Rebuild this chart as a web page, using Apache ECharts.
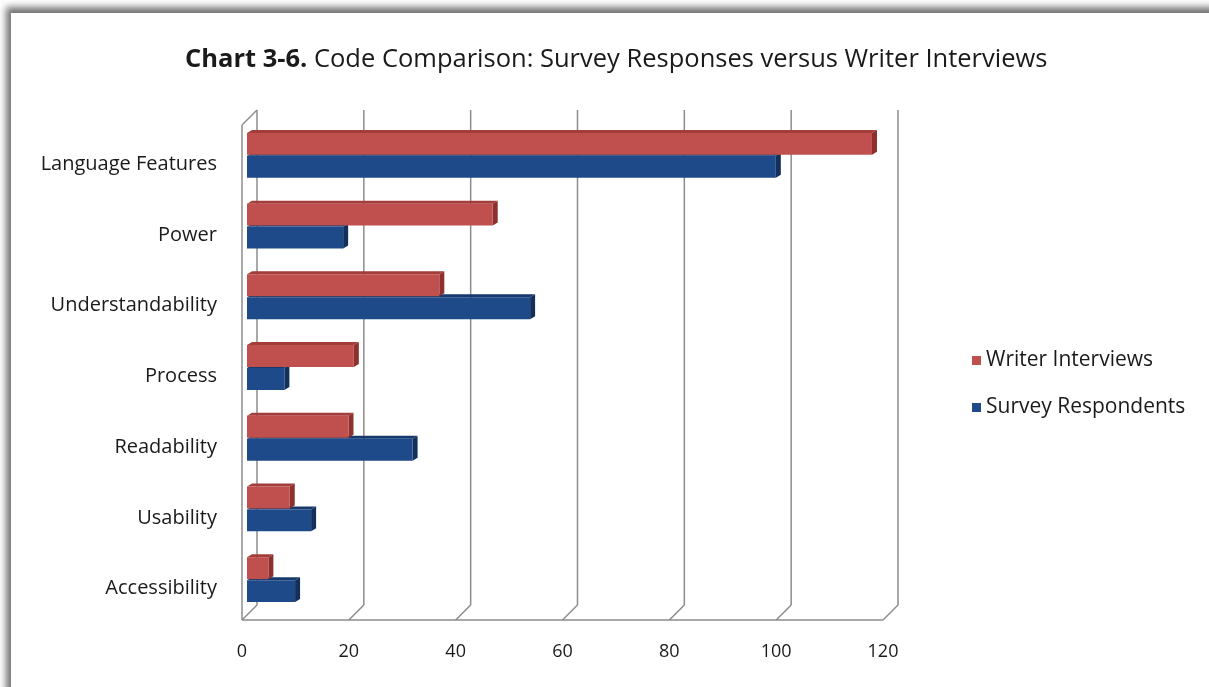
<!DOCTYPE html>
<html>
<head>
<meta charset="utf-8">
<script src="https://cdn.jsdelivr.net/npm/echarts@6/dist/echarts.min.js"></script>
<style>
  html, body { margin: 0; padding: 0; width: 1209px; height: 687px; overflow: hidden; background: #fff; }
  #sheet {
    position: absolute; left: 11px; top: 13px; width: 1240px; height: 720px;
    background: #fff;
    box-shadow: -3px -4px 7px 2px rgba(0,0,0,0.55);
  }
  #main { position: absolute; left: 0; top: 0; width: 1209px; height: 687px; }
</style>
</head>
<body>
<div id="sheet"></div>
<div id="main"></div>
<script>
// Codes, top to bottom
const categories = ['Language Features', 'Power', 'Understandability', 'Process', 'Readability', 'Usability', 'Accessibility'];
const writerInterviews = [117, 46, 36, 20, 19, 8, 4];
const surveyRespondents = [99, 18, 53, 7, 31, 12, 9];
const xTicks = [0, 20, 40, 60, 80, 100, 120];

const FONT = '"Open Sans", "DejaVu Sans", sans-serif';
const DEPTH = 15;        // offset of the back wall
const BAR_SHIFT = 5;     // bars sit partway into the depth
const BAR_EX = 5, BAR_EY = 3;   // thickness of each 3D bar

const chart = echarts.init(document.getElementById('main'), null, { renderer: 'canvas' });

// 3D-looking horizontal bar: front face, top face and end cap
function barRenderer(upper, face, top, cap) {
  return function (params, api) {
    const v = api.value(0), idx = api.value(1);
    const p0 = api.coord([0, idx]);
    const p1 = api.coord([v, idx]);
    const band = api.size([0, 1])[1];
    const h = band * 0.31;
    const x0 = p0[0] + BAR_SHIFT, x1 = p1[0] + BAR_SHIFT;
    const cy = p0[1] - BAR_SHIFT;
    const yTop = upper ? cy - h - 0.5 : cy + 0.5;
    const yBot = upper ? cy - 0.5 : cy + h + 0.5;
    return {
      type: 'group',
      children: [
        { type: 'polygon', shape: { points: [[x0, yTop], [x1, yTop], [x1 + BAR_EX, yTop - BAR_EY], [x0 + BAR_EX, yTop - BAR_EY]] }, style: { fill: top } },
        { type: 'polygon', shape: { points: [[x1, yTop], [x1 + BAR_EX, yTop - BAR_EY], [x1 + BAR_EX, yBot - BAR_EY], [x1, yBot]] }, style: { fill: cap } },
        { type: 'rect', shape: { x: x0, y: yTop, width: x1 - x0, height: yBot - yTop }, style: { fill: face } }
      ]
    };
  };
}

// Walls and floor of the 3D plot area, one group per x tick
function frameRenderer(params, api) {
  const cs = params.coordSys;
  const t = api.value(0);
  const x = api.coord([t, 0])[0];
  const top = cs.y, bottom = cs.y + cs.height;
  const ls = { stroke: '#8c8c8c', lineWidth: 1.5, fill: null };
  const children = [
    { type: 'line', shape: { x1: x + DEPTH, y1: top - DEPTH, x2: x + DEPTH, y2: bottom - DEPTH }, style: ls },
    { type: 'line', shape: { x1: x, y1: bottom, x2: x + DEPTH, y2: bottom - DEPTH }, style: ls }
  ];
  if (params.dataIndex === 0) {
    children.push(
      { type: 'line', shape: { x1: cs.x, y1: bottom, x2: cs.x + cs.width, y2: bottom }, style: ls },
      { type: 'line', shape: { x1: cs.x, y1: top, x2: cs.x, y2: bottom }, style: ls },
      { type: 'line', shape: { x1: cs.x, y1: top, x2: cs.x + DEPTH, y2: top - DEPTH }, style: ls }
    );
  }
  return { type: 'group', children: children };
}

const option = {
  animation: false,
  textStyle: { fontFamily: FONT },
  title: {
    text: '{b|Chart 3-6.} Code Comparison: Survey Responses versus Writer Interviews',
    left: 180,
    top: 42,
    textStyle: {
      fontFamily: FONT, fontSize: 25.5, fontWeight: 'normal', color: '#1a1a1a',
      rich: { b: { fontFamily: FONT, fontSize: 25.5, fontWeight: 'bold', color: '#1a1a1a' } }
    }
  },
  legend: {
    orient: 'vertical',
    left: 967,
    top: 345,
    itemWidth: 9,
    itemHeight: 9,
    itemGap: 26,
    icon: 'rect',
    textStyle: { fontFamily: FONT, fontSize: 21, color: '#1a1a1a' },
    data: ['Writer Interviews', 'Survey Respondents']
  },
  grid: { left: 242, right: 326, top: 125, bottom: 67 },
  xAxis: {
    type: 'value', min: 0, max: 120, interval: 20,
    axisLine: { show: false }, axisTick: { show: false }, splitLine: { show: false },
    axisLabel: { fontFamily: FONT, fontSize: 18, color: '#1a1a1a', margin: 23 }
  },
  yAxis: {
    type: 'category', data: categories, inverse: true,
    axisLine: { show: false }, axisTick: { show: false }, splitLine: { show: false },
    axisLabel: {
      margin: 25,
      formatter: v => '{c|' + v + '}',
      rich: { c: { fontFamily: FONT, fontSize: 20, color: '#1a1a1a', padding: [8, 0, 0, 0] } }
    }
  },
  series: [
    {
      name: 'frame', type: 'custom', z: 1, silent: true,
      renderItem: frameRenderer,
      encode: { x: 0, y: 1 },
      data: xTicks.map(t => [t, 0])
    },
    {
      name: 'Survey Respondents', type: 'custom', z: 2,
      itemStyle: { color: '#1f4a8a' },
      renderItem: barRenderer(false, '#1f4a8a', '#17396d', '#12305a'),
      encode: { x: 0, y: 1 },
      data: surveyRespondents.map((v, i) => [v, i])
    },
    {
      name: 'Writer Interviews', type: 'custom', z: 3,
      itemStyle: { color: '#c0504d' },
      renderItem: barRenderer(true, '#c0504d', '#a23d3a', '#8e302d'),
      encode: { x: 0, y: 1 },
      data: writerInterviews.map((v, i) => [v, i])
    }
  ]
};

chart.setOption(option);
</script>
</body>
</html>
